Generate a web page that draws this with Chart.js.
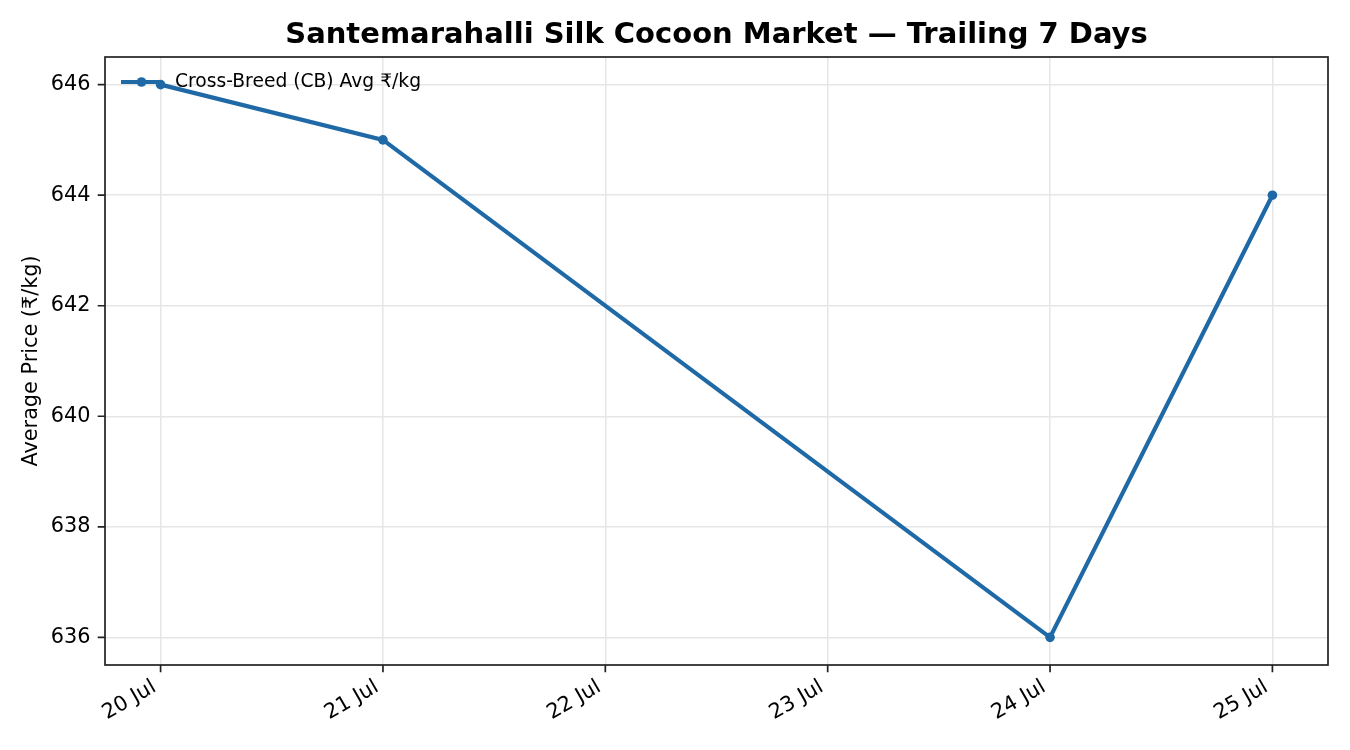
<!DOCTYPE html>
<html><head><meta charset="utf-8">
<script src="https://cdn.jsdelivr.net/npm/chart.js@4.4.1/dist/chart.umd.min.js"></script>
<style>html,body{margin:0;padding:0;background:#fff}#wrap{width:1350px;height:750px}</style>
</head><body><div id="wrap"><canvas id="c" width="1350" height="750"></canvas></div>
<script>
const titleText = 'Santemarahalli Silk Cocoon Market — Trailing 7 Days';
const seriesLabel = 'Cross-Breed (CB) Avg ₹/kg';
const yAxisTitle = 'Average Price (₹/kg)';
const dayOfMonth = [20, 21, 24, 25];
const avgPrice = [646, 645, 636, 644];
const xTickDays = [20, 21, 22, 23, 24, 25];
const monthLabel = 'Jul';
const yTickValues = [636, 638, 640, 642, 644, 646];

const FONT = 'DejaVu Sans';
const LINE_COLOR = '#1f6aa6';

const decor = {
  id: 'decor',
  afterDraw(chart) {
    const ctx = chart.ctx;
    const a = chart.chartArea;
    const xs = chart.scales.x, ys = chart.scales.y;
    ctx.save();
    // frame
    ctx.strokeStyle = '#222';
    ctx.lineWidth = 1.7;
    ctx.strokeRect(a.left, a.top, a.right - a.left, a.bottom - a.top);
    // tick marks
    ctx.beginPath();
    xs.ticks.forEach(t => {
      const px = xs.getPixelForValue(t.value);
      ctx.moveTo(px, a.bottom); ctx.lineTo(px, a.bottom + 7.3);
    });
    ys.ticks.forEach(t => {
      const py = ys.getPixelForValue(t.value);
      ctx.moveTo(a.left, py); ctx.lineTo(a.left - 7.3, py);
    });
    ctx.stroke();
    // title
    ctx.fillStyle = '#000';
    ctx.font = 'bold 29px "' + FONT + '"';
    ctx.textAlign = 'center';
    ctx.textBaseline = 'middle';
    ctx.fillText(titleText, (a.left + a.right) / 2, 35);
    // legend
    const ly = 82;
    ctx.strokeStyle = LINE_COLOR;
    ctx.lineWidth = 4.2;
    ctx.beginPath(); ctx.moveTo(121, ly); ctx.lineTo(162, ly); ctx.stroke();
    ctx.fillStyle = LINE_COLOR;
    ctx.beginPath(); ctx.arc(141.5, ly, 4.8, 0, Math.PI * 2); ctx.fill();
    ctx.fillStyle = '#000';
    ctx.font = '18.7px "' + FONT + '"';
    ctx.textAlign = 'left';
    ctx.fillText(chart.data.datasets[0].label, 175, ly);
    ctx.restore();
  }
};

new Chart(document.getElementById('c'), {
  type: 'line',
  data: {
    datasets: [{
      label: seriesLabel,
      data: dayOfMonth.map((d, i) => ({ x: d, y: avgPrice[i] })),
      borderColor: LINE_COLOR,
      backgroundColor: LINE_COLOR,
      borderWidth: 4.2,
      pointRadius: 4.8,
      pointHoverRadius: 4.8,
      pointBorderWidth: 0,
      tension: 0,
      fill: false
    }]
  },
  options: {
    responsive: false,
    animation: false,
    devicePixelRatio: 1,
    layout: { padding: { left: 0, top: 57, right: 22, bottom: 0 } },
    plugins: { legend: { display: false }, title: { display: false }, tooltip: { enabled: false } },
    scales: {
      x: {
        type: 'linear',
        min: 19.75, max: 25.25,
        afterBuildTicks: s => { s.ticks = xTickDays.map(v => ({ value: v })); },
        afterFit: s => { s.height = 85; },
        grid: { color: '#e6e6e6', lineWidth: 1.5, drawTicks: false },
        border: { display: false },
        ticks: {
          callback: v => v + ' ' + monthLabel,
          minRotation: 30, maxRotation: 30,
          autoSkip: false,
          padding: 10,
          labelOffset: -6,
          color: '#000',
          font: { family: FONT, size: 20.8 }
        }
      },
      y: {
        type: 'linear',
        min: 635.5, max: 646.5,
        afterBuildTicks: s => { s.ticks = yTickValues.map(v => ({ value: v })); },
        afterFit: s => { s.width = 105; },
        grid: { color: '#e6e6e6', lineWidth: 1.5, drawTicks: false },
        border: { display: false },
        title: { display: true, text: yAxisTitle, color: '#000', font: { family: FONT, size: 20.8 }, padding: { top: 19.5, bottom: 0 } },
        ticks: {
          padding: 14.6,
          color: '#000',
          font: { family: FONT, size: 20.8 }
        }
      }
    }
  },
  plugins: [decor]
});
</script></body></html>
